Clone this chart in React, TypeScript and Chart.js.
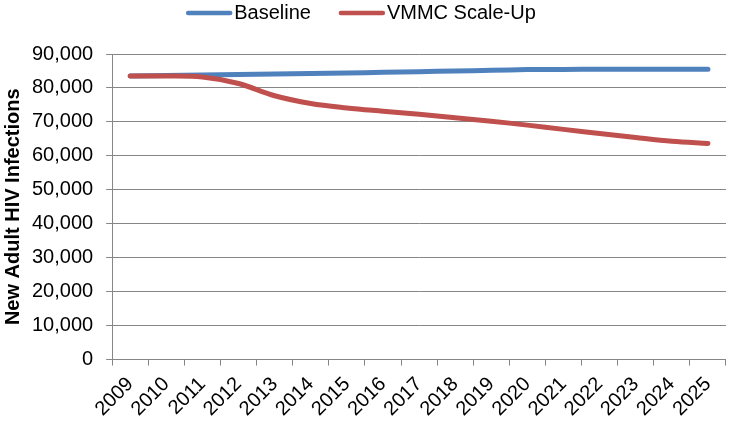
import { useEffect, useRef } from "react";
import { Chart, registerables, type ChartConfiguration, type Plugin } from "chart.js";

Chart.register(...registerables);

const FONT = "'Liberation Sans', Arial, sans-serif";
const GRID = "#868686";

const years = [
  "2009", "2010", "2011", "2012", "2013", "2014", "2015", "2016", "2017",
  "2018", "2019", "2020", "2021", "2022", "2023", "2024", "2025"
];

const baseline = [
  83500, 83650, 83800, 83950, 84100, 84250, 84400, 84600, 84800,
  85000, 85200, 85400, 85450, 85500, 85500, 85500, 85500
];

const scaleUp = [
  83500, 83500, 83200, 81300, 77700, 75400, 74100, 73150, 72250,
  71200, 70200, 69050, 67800, 66600, 65400, 64300, 63650
];

const yTicks = [0, 10000, 20000, 30000, 40000, 50000, 60000, 70000, 80000, 90000];

// legend drawn by hand: line sample, small gap, label, wide gap
const lineLegend: Plugin<"line"> = {
  id: "lineLegend",
  afterDraw(chart) {
    const { ctx } = chart;
    const lineLen = 46;
    const textGap = 2;
    const itemGap = 28;
    ctx.save();
    ctx.font = `20px ${FONT}`;
    ctx.textBaseline = "middle";
    const items = chart.data.datasets.map((ds) => ({
      text: String(ds.label),
      color: String(ds.borderColor),
      width: ctx.measureText(String(ds.label)).width
    }));
    const total =
      items.reduce((sum, item) => sum + lineLen + textGap + item.width, 0) +
      itemGap * (items.length - 1);
    let x = chart.width / 2 - 5 - total / 2;
    const y = 13;
    items.forEach((item) => {
      ctx.strokeStyle = item.color;
      ctx.lineWidth = 4.5;
      ctx.lineCap = "round";
      ctx.beginPath();
      ctx.moveTo(x + 2, y);
      ctx.lineTo(x + lineLen - 2, y);
      ctx.stroke();
      ctx.fillStyle = "#000";
      ctx.fillText(item.text, x + lineLen + textGap, y);
      x += lineLen + textGap + item.width + itemGap;
    });
    ctx.restore();
  }
};

export default function App() {
  const canvasRef = useRef<HTMLCanvasElement | null>(null);

  useEffect(() => {
    document.body.style.margin = "0";
    const canvas = canvasRef.current;
    if (!canvas) {
      return;
    }

    const config: ChartConfiguration<"line"> = {
      type: "line",
      data: {
        labels: years,
        datasets: [
          {
            label: "Baseline",
            data: baseline,
            borderColor: "#4F81BD",
            backgroundColor: "#4F81BD",
            borderWidth: 5,
            borderCapStyle: "round",
            tension: 0.35,
            pointRadius: 0,
            order: 2
          },
          {
            label: "VMMC Scale-Up",
            data: scaleUp,
            borderColor: "#C0504D",
            backgroundColor: "#C0504D",
            borderWidth: 5,
            borderCapStyle: "round",
            tension: 0.35,
            pointRadius: 0,
            order: 1
          }
        ]
      },
      options: {
        responsive: true,
        maintainAspectRatio: false,
        animation: false,
        layout: {
          padding: { top: 54, right: 3, bottom: -3, left: 0 }
        },
        plugins: {
          legend: { display: false },
          tooltip: { enabled: false }
        },
        scales: {
          x: {
            offset: true,
            grid: {
              offset: true,
              drawOnChartArea: false,
              color: GRID,
              tickLength: 6
            },
            border: { color: GRID },
            ticks: {
              autoSkip: false,
              maxRotation: 45,
              minRotation: 45,
              padding: 7,
              color: "#000",
              font: { family: FONT, size: 20 }
            }
          },
          y: {
            min: 0,
            max: 90000,
            afterBuildTicks: (scale) => {
              scale.ticks = yTicks.map((value) => ({ value }));
            },
            grid: { color: GRID, tickLength: 6 },
            border: { color: GRID },
            ticks: {
              padding: 13,
              color: "#000",
              font: { family: FONT, size: 20 },
              callback: (value) => Number(value).toLocaleString("en-US")
            },
            title: {
              display: true,
              text: "New Adult HIV Infections",
              color: "#000",
              font: { family: FONT, size: 20, weight: "bold" },
              padding: { top: 1, bottom: -6 }
            }
          }
        }
      },
      plugins: [lineLegend]
    };

    const chart = new Chart(canvas, config);

    return () => {
      chart.destroy();
    };
  }, []);

  return (
    <div style={{ position: "relative", width: 732, height: 425 }}>
      <canvas ref={canvasRef} />
    </div>
  );
}
